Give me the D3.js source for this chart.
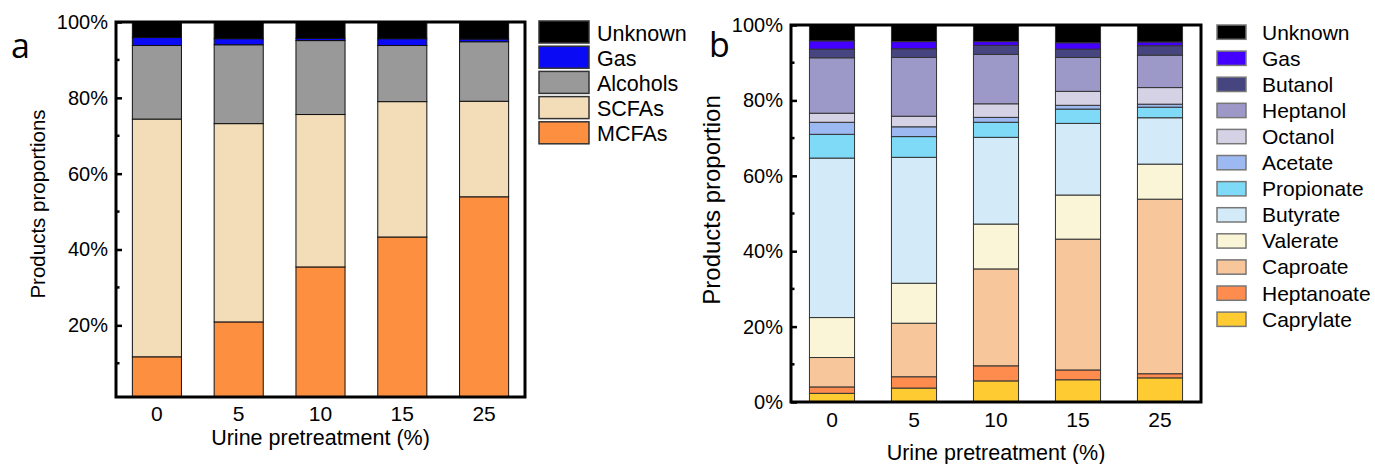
<!DOCTYPE html>
<html>
<head>
<meta charset="utf-8">
<script src="https://cdn.jsdelivr.net/npm/d3@7"></script>
<style>
body { margin: 0; background: #fff; }
text { font-family: "Liberation Sans", Arial, sans-serif; fill: #000; }
</style>
</head>
<body>
<div id="chart"></div>
<script>
// Shared categories (urine pretreatment %)
var categories = ["0", "5", "10", "15", "25"];

// Panel a - product groups (%), bottom to top
var keysA = ["MCFAs", "SCFAs", "Alcohols", "Gas", "Unknown"];
var mcfas    = [11.7, 20.9, 35.4, 43.3, 53.9];
var scfas    = [62.7, 52.3, 40.2, 35.7, 25.2];
var alcohols = [19.4, 20.8, 19.5, 14.8, 15.7];
var gasA     = [2.1, 1.6, 0.6, 1.8, 0.7];
var unknownA = [4.1, 4.4, 4.3, 4.4, 4.5];
var colorsA = ["#fd8f40", "#f2ddb8", "#999999", "#0a0af5", "#000000"];

// Panel b - individual products (%), bottom to top
var keysB = ["Caprylate", "Heptanoate", "Caproate", "Valerate", "Butyrate", "Propionate",
             "Acetate", "Octanol", "Heptanol", "Butanol", "Gas", "Unknown"];
var caprylate  = [2.3, 3.7, 5.6, 5.9, 6.4];
var heptanoate = [1.7, 3.0, 4.0, 2.6, 1.1];
var caproate   = [7.8, 14.2, 25.7, 34.7, 46.3];
var valerate   = [10.6, 10.6, 11.9, 11.7, 9.3];
var butyrate   = [42.3, 33.4, 23.0, 19.0, 12.3];
var propionate = [6.3, 5.5, 4.0, 3.8, 2.8];
var acetate    = [3.2, 2.6, 1.3, 1.0, 0.8];
var octanol    = [2.4, 2.8, 3.6, 3.7, 4.4];
var heptanol   = [14.7, 15.6, 13.1, 9.0, 8.6];
var butanol    = [2.3, 2.3, 2.4, 2.2, 2.5];
var gasB       = [2.2, 1.9, 1.0, 1.7, 1.0];
var unknownB   = [4.2, 4.4, 4.4, 4.7, 4.5];
var colorsB = ["#fecb33", "#fd8c4e", "#f7c69b", "#fbf5d8", "#d3eaf8", "#7fdaf8",
               "#9cb9f2", "#d5d2e6", "#9c98c8", "#474580", "#4400ff", "#000000"];

var majorTicksA = [20, 40, 60, 80, 100];
var majorTicksB = [0, 20, 40, 60, 80, 100];
var minorTicks = [10, 30, 50, 70, 90];

var rowsA = categories.map(function(c, i) {
    return {cat: c, MCFAs: mcfas[i], SCFAs: scfas[i], Alcohols: alcohols[i], Gas: gasA[i], Unknown: unknownA[i]};
});
var rowsB = categories.map(function(c, i) {
    return {cat: c, Caprylate: caprylate[i], Heptanoate: heptanoate[i], Caproate: caproate[i],
            Valerate: valerate[i], Butyrate: butyrate[i], Propionate: propionate[i], Acetate: acetate[i],
            Octanol: octanol[i], Heptanol: heptanol[i], Butanol: butanol[i], Gas: gasB[i], Unknown: unknownB[i]};
});

var svg = d3.select("#chart").append("svg")
    .attr("width", 1375)
    .attr("height", 464);

function drawPanel(p) {
    var g = svg.append("g");
    var xScale = d3.scaleBand()
        .domain(categories)
        .range([p.left, p.right])
        .paddingInner(p.padIn)
        .paddingOuter(p.padIn / 2);
    var yScale = d3.scaleLinear()
        .domain(p.yDomain)
        .range([p.bottom, p.top]);

    var clipId = "clip-" + p.name;
    svg.append("clipPath").attr("id", clipId)
        .append("rect")
        .attr("x", p.left).attr("y", p.top)
        .attr("width", p.right - p.left).attr("height", p.bottom - p.top);

    var stacked = d3.stack().keys(p.keys)(p.rows);
    var color = d3.scaleOrdinal().domain(p.keys).range(p.colors);

    var bars = g.append("g").attr("clip-path", "url(#" + clipId + ")");
    bars.selectAll("g.layer")
        .data(stacked)
        .enter()
        .append("g")
        .attr("class", "layer")
        .attr("fill", d => color(d.key))
        .selectAll("rect")
        .data(d => d)
        .enter()
        .append("rect")
        .attr("x", d => xScale(d.data.cat))
        .attr("width", xScale.bandwidth())
        .attr("y", d => yScale(d[1]))
        .attr("height", d => yScale(d[0]) - yScale(d[1]))
        .attr("stroke", p.barStroke)
        .attr("stroke-width", 1);

    // left axis, ticks inside the frame
    var leftAxis = d3.axisLeft(yScale)
        .tickValues(p.majorTicks)
        .tickFormat(d => d + "%")
        .tickSizeInner(-6)
        .tickSizeOuter(0)
        .tickPadding(8);
    var ax = g.append("g")
        .attr("transform", `translate(${p.left}, 0)`)
        .call(leftAxis);
    ax.select(".domain").remove();
    ax.selectAll(".tick line").attr("stroke", "#000").attr("stroke-width", 2.5);
    ax.selectAll(".tick text")
        .style("font-family", "'Liberation Sans', Arial, sans-serif")
        .attr("font-size", "20px")
        .attr("fill", "#000");

    g.selectAll("line.minor")
        .data(minorTicks)
        .enter()
        .append("line")
        .attr("class", "minor")
        .attr("x1", p.left)
        .attr("x2", p.left + 3.5)
        .attr("y1", d => yScale(d))
        .attr("y2", d => yScale(d))
        .attr("stroke", "#000")
        .attr("stroke-width", 2.5);

    // category labels
    g.selectAll("text.cat")
        .data(categories)
        .enter()
        .append("text")
        .attr("class", "cat")
        .attr("x", d => xScale(d) + xScale.bandwidth() / 2)
        .attr("y", p.catY)
        .attr("text-anchor", "middle")
        .attr("font-size", "21px")
        .text(d => d);

    // frame
    g.append("rect")
        .attr("x", p.left)
        .attr("y", p.top)
        .attr("width", p.right - p.left)
        .attr("height", p.bottom - p.top)
        .attr("fill", "none")
        .attr("stroke", "#000")
        .attr("stroke-width", 3);

    // axis titles
    g.append("text")
        .attr("x", (p.left + p.right) / 2)
        .attr("y", p.xTitleY)
        .attr("text-anchor", "middle")
        .attr("font-size", "21.5px")
        .text("Urine pretreatment (%)");

    g.append("text")
        .attr("transform", `translate(${p.yTitleX}, ${p.yTitleCy}) rotate(-90)`)
        .attr("text-anchor", "middle")
        .attr("font-size", p.yTitleSize)
        .text(p.yTitle);

    // panel letter
    g.append("text")
        .attr("x", p.letterX)
        .attr("y", p.letterY)
        .attr("font-size", "34px")
        .style("font-family", "'Open Sans', sans-serif")
        .text(p.letter);

    // legend (top of stack first)
    var legendKeys = p.keys.slice().reverse();
    var leg = g.selectAll("g.leg")
        .data(legendKeys)
        .enter()
        .append("g")
        .attr("class", "leg")
        .attr("transform", (d, i) => `translate(${p.legX}, ${p.legY + i * p.legStep})`);
    leg.append("rect")
        .attr("width", p.swW)
        .attr("height", p.swH)
        .attr("fill", d => color(d))
        .attr("stroke", p.swStroke)
        .attr("stroke-width", 1.5);
    leg.append("text")
        .attr("x", p.legTextDx)
        .attr("y", p.legTextDy)
        .attr("font-size", p.legFont)
        .text(d => d);
}

drawPanel({
    name: "a", keys: keysA, rows: rowsA, colors: colorsA,
    left: 116, right: 525, top: 22, bottom: 397, padIn: 0.4,
    yDomain: [1.1, 100], majorTicks: majorTicksA, barStroke: "#111",
    catY: 421, xTitleY: 445, yTitleX: 45, yTitleCy: 204, yTitleSize: "20.5px",
    yTitle: "Products proportions", letter: "a", letterX: 11, letterY: 58,
    legX: 539, legY: 21, legStep: 25.2, swW: 50, swH: 22, swStroke: "#333",
    legTextDx: 58, legTextDy: 19.5, legFont: "21.5px"
});

drawPanel({
    name: "b", keys: keysB, rows: rowsB, colors: colorsB,
    left: 791, right: 1201, top: 25, bottom: 402, padIn: 0.45,
    yDomain: [0, 100], majorTicks: majorTicksB, barStroke: "#333",
    catY: 427, xTitleY: 460, yTitleX: 720, yTitleCy: 200, yTitleSize: "24px",
    yTitle: "Products proportion", letter: "b", letterX: 709, letterY: 57,
    legX: 1217, legY: 25, legStep: 26.1, swW: 29, swH: 14.3, swStroke: "#777",
    legTextDx: 45, legTextDy: 14.5, legFont: "21px"
});
</script>
</body>
</html>
